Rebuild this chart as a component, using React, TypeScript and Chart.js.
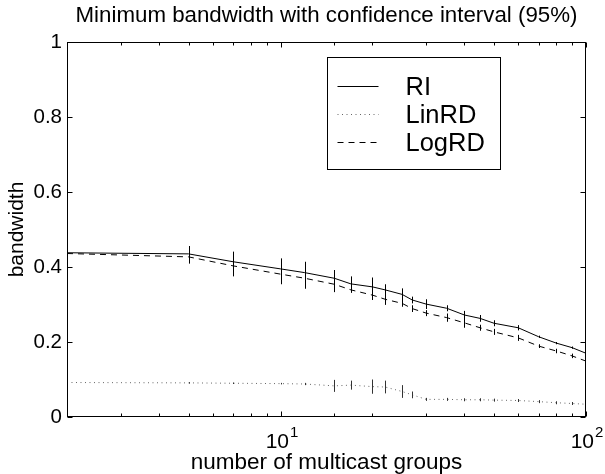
import React, { useEffect, useRef } from 'react';
import { Chart, registerables } from 'chart.js';

Chart.register(...registerables);

// ---------- data ----------
const groups = [2, 5, 7, 10, 12, 15, 17, 20, 22, 25, 27, 30, 35, 40, 45, 50, 60, 70, 80, 90, 100];
const riValues = [0.438, 0.435, 0.414, 0.395, 0.385, 0.37, 0.355, 0.347, 0.339, 0.327, 0.312, 0.301, 0.29, 0.272, 0.263, 0.25, 0.238, 0.214, 0.197, 0.185, 0.17];
const linValues = [0.092, 0.091, 0.09, 0.089, 0.088, 0.083, 0.085, 0.081, 0.08, 0.068, 0.059, 0.047, 0.047, 0.046, 0.046, 0.045, 0.044, 0.041, 0.038, 0.036, 0.034];
const logValues = [0.436, 0.427, 0.403, 0.381, 0.37, 0.354, 0.339, 0.325, 0.314, 0.303, 0.289, 0.277, 0.265, 0.251, 0.238, 0.227, 0.211, 0.189, 0.176, 0.163, 0.149];
const riErr = [0, 0.021, 0.027, 0.028, 0.029, 0.022, 0.02, 0.025, 0.015, 0.016, 0.009, 0.013, 0.008, 0.011, 0.009, 0.008, 0.007, 0.003, 0.003, 0.003, 0.003];
const linErr = [0, 0.002, 0.002, 0.002, 0.003, 0.016, 0.012, 0.019, 0.017, 0.017, 0.009, 0.004, 0.004, 0.004, 0.004, 0.004, 0.004, 0.004, 0.004, 0.004, 0.004];
const logErr = [0, 0.018, 0.028, 0.027, 0.028, 0.021, 0.008, 0.013, 0.015, 0.009, 0.009, 0.008, 0.011, 0.013, 0.008, 0.008, 0.008, 0.005, 0.006, 0.006, 0.005];
const seriesNames = ['RI', 'LinRD', 'LogRD'];
const yTickStep = 0.2;
const xRange = [2, 100];
const yRange = [0, 1];
const chartTitle = 'Minimum bandwidth with confidence interval (95%)';
const xTitle = 'number of multicast groups';
const yTitle = 'bandwidth';

// ---------- styles ----------
const FONT = "'Liberation Sans', Arial, Helvetica, sans-serif";
const seriesStyles = [
  { color: '#000', dash: [] as number[], errColor: '#000' },
  { color: '#666', dash: [1, 3.5], errColor: '#333' },
  { color: '#000', dash: [6, 5], errColor: '#000' },
];
const seriesValues = [riValues, linValues, logValues];
const seriesErrors = [riErr, linErr, logErr];

const isPow10 = (v: number) => {
  const l = Math.log10(v);
  return Math.abs(l - Math.round(l)) < 1e-9;
};

const errorBarPlugin = {
  id: 'errorBars',
  afterDatasetsDraw(chart: any) {
    const { ctx, chartArea: a, scales } = chart;
    const xs = scales.x;
    const ys = scales.y;
    ctx.save();
    ctx.beginPath();
    ctx.rect(a.left, a.top, a.right - a.left, a.bottom - a.top);
    ctx.clip();
    chart.data.datasets.forEach((ds: any) => {
      const errs: number[] = ds.errors;
      ctx.strokeStyle = ds.errColor;
      ctx.lineWidth = 1;
      ctx.setLineDash([]);
      ds.data.forEach((p: any, j: number) => {
        const e = errs[j];
        if (!e) return;
        const px = Math.round(xs.getPixelForValue(p.x)) + 0.5;
        const y1 = ys.getPixelForValue(p.y - e);
        const y2 = ys.getPixelForValue(p.y + e);
        ctx.beginPath();
        ctx.moveTo(px, y1);
        ctx.lineTo(px, y2);
        ctx.stroke();
      });
    });
    ctx.restore();
  },
};

const framePlugin = {
  id: 'frame',
  afterDraw(chart: any) {
    const { ctx, chartArea: a, scales } = chart;
    const xs = scales.x;
    const ys = scales.y;
    const L = Math.round(a.left) + 0.5;
    const R = Math.round(a.right) - 0.5;
    const T = Math.round(a.top) + 0.5;
    const B = Math.round(a.bottom) - 0.5;
    ctx.save();
    ctx.strokeStyle = '#000';
    ctx.fillStyle = '#000';
    ctx.lineWidth = 1;
    ctx.setLineDash([]);
    ctx.strokeRect(L, T, R - L, B - T);
    const seg = (x1: number, y1: number, x2: number, y2: number) => {
      ctx.beginPath();
      ctx.moveTo(x1, y1);
      ctx.lineTo(x2, y2);
      ctx.stroke();
    };
    // x ticks (inward, bottom and top) + labels for powers of ten
    xs.ticks.forEach((t: any) => {
      const v = t.value;
      if (v < xs.min - 1e-9 || v > xs.max + 1e-9) return;
      const px = Math.round(xs.getPixelForValue(v)) + 0.5;
      const major = isPow10(v);
      const len = major ? 5 : 3;
      seg(px, B, px, B - len);
      seg(px, T, px, T + len);
      if (major) {
        const exp = String(Math.round(Math.log10(v)));
        ctx.font = `21px ${FONT}`;
        const wb = ctx.measureText('10').width;
        ctx.font = `15px ${FONT}`;
        const we = ctx.measureText(exp).width;
        const start = px - (wb + we) / 2;
        ctx.textAlign = 'left';
        ctx.textBaseline = 'alphabetic';
        ctx.font = `21px ${FONT}`;
        ctx.fillText('10', start, a.bottom + 31.3);
        ctx.font = `15px ${FONT}`;
        ctx.fillText(exp, start + wb + 1, a.bottom + 20);
      }
    });
    // y ticks (inward, left and right)
    ys.ticks.forEach((t: any) => {
      const py = Math.round(ys.getPixelForValue(t.value)) + 0.5;
      seg(L, py, L + 5, py);
      seg(R, py, R - 5, py);
    });
    // legend box
    const lx = Math.round(a.left + 260) + 0.5;
    const ly = Math.round(a.top + 15) + 0.5;
    const lw = 173;
    const lh = 112;
    ctx.fillStyle = '#fff';
    ctx.fillRect(lx, ly, lw, lh);
    ctx.strokeStyle = '#000';
    ctx.strokeRect(lx, ly, lw, lh);
    ctx.font = `25.5px ${FONT}`;
    ctx.textAlign = 'left';
    ctx.textBaseline = 'middle';
    chart.data.datasets.forEach((ds: any, i: number) => {
      const ry = Math.round(ly + 28 + i * 28) + 0.5;
      ctx.strokeStyle = ds.borderColor;
      ctx.setLineDash(ds.borderDash || []);
      seg(lx + 10, ry, lx + 51, ry);
      ctx.setLineDash([]);
      ctx.fillStyle = '#000';
      ctx.fillText(ds.label, lx + 78, ry + 1);
    });
    ctx.restore();
  },
};

export default function App() {
  const ref = useRef<HTMLCanvasElement | null>(null);

  useEffect(() => {
    if (!ref.current) return;
    Chart.defaults.font.family = FONT;
    Chart.defaults.color = '#000';
    const datasets = seriesNames.map((name, i) => ({
      label: name,
      data: groups.map((g, j) => ({ x: g, y: seriesValues[i][j] })),
      borderColor: seriesStyles[i].color,
      borderDash: seriesStyles[i].dash,
      borderWidth: 1,
      pointRadius: 0,
      fill: false,
      tension: 0,
      errors: seriesErrors[i],
      errColor: seriesStyles[i].errColor,
    }));
    const chart = new Chart(ref.current, {
      type: 'line',
      data: { datasets } as any,
      options: {
        animation: false,
        responsive: false,
        events: [],
        layout: { padding: { left: 0, right: 19, top: 0, bottom: 0 } },
        plugins: {
          legend: { display: false },
          tooltip: { enabled: false },
          title: {
            display: true,
            text: chartTitle,
            fullSize: false,
            color: '#000',
            font: { family: FONT, size: 22.3, weight: 'normal', lineHeight: 1 },
            padding: { top: 5.1, bottom: 14.6 },
          },
        },
        scales: {
          x: {
            type: 'logarithmic',
            min: xRange[0],
            max: xRange[1],
            grid: { display: false },
            border: { display: false },
            ticks: { display: false },
            title: {
              display: true,
              text: xTitle,
              color: '#000',
              font: { family: FONT, size: 22.5, lineHeight: 1 },
              padding: { top: 0, bottom: 0.4 },
            },
            afterFit: (s: any) => {
              s.height = 57;
            },
          },
          y: {
            type: 'linear',
            min: yRange[0],
            max: yRange[1],
            grid: { display: false, drawTicks: false },
            border: { display: false },
            ticks: {
              stepSize: yTickStep,
              padding: 5,
              color: '#000',
              font: { family: FONT, size: 20.5 },
              callback: (v: any) => String(Math.round(Number(v) * 10) / 10),
            },
            title: {
              display: true,
              text: yTitle,
              color: '#000',
              font: { family: FONT, size: 21, lineHeight: 1 },
              padding: { top: 7.2, bottom: 0 },
            },
            afterFit: (s: any) => {
              s.width = 67;
            },
          },
        },
      } as any,
      plugins: [errorBarPlugin, framePlugin],
    });
    return () => chart.destroy();
  }, []);

  return (
    <div style={{ position: 'fixed', left: 0, top: 0, width: 605, height: 474, background: '#fff' }}>
      <canvas ref={ref} width={605} height={474} style={{ display: 'block' }} />
    </div>
  );
}
